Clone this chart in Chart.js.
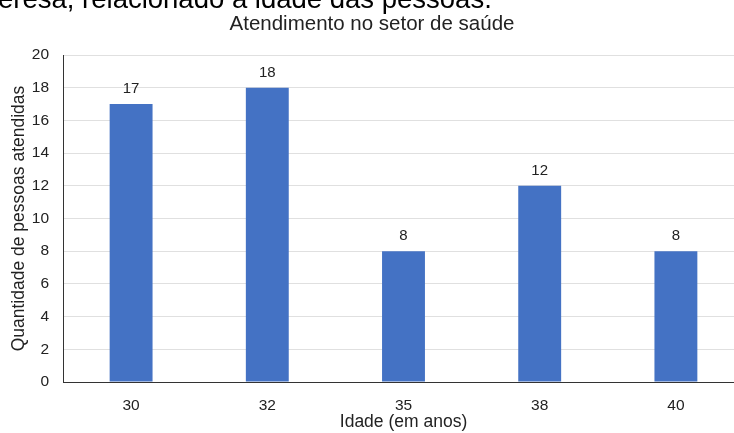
<!DOCTYPE html>
<html>
<head>
<meta charset="utf-8">
<script src="https://cdn.jsdelivr.net/npm/chart.js@4/dist/chart.umd.min.js"></script>
<style>
  body { margin: 0; overflow: hidden; background: #fff; }
  #wrap { position: absolute; left: 0; top: 0; width: 746px; height: 433px; }
  #cut {
    position: absolute; left: -2px; top: -15.5px;
    font-family: "Liberation Sans", Arial, sans-serif;
    font-size: 27.5px; line-height: 28px; color: #000; white-space: nowrap;
  }
</style>
</head>
<body>
<div id="wrap"><canvas id="myChart" width="746" height="433"></canvas></div>
<div id="cut">eresa, relacionado à idade das pessoas.</div>
<script>
// data
const ages = ['30', '32', '35', '38', '40'];
const attended = [17, 18, 8, 12, 8];
const yTicks = [0, 2, 4, 6, 8, 10, 12, 14, 16, 18, 20];

const ctx = document.getElementById('myChart').getContext('2d');
const FONT = '"Liberation Sans", Arial, sans-serif';

// draw the value above each bar
const barLabels = {
  id: 'barLabels',
  afterDatasetsDraw(chart) {
    const c = chart.ctx;
    const meta = chart.getDatasetMeta(0);
    c.save();
    c.font = '15px ' + FONT;
    c.fillStyle = '#222';
    c.textAlign = 'center';
    c.textBaseline = 'middle';
    meta.data.forEach(function(bar, i) {
      c.fillText(String(attended[i]), bar.x, bar.y - 15);
    });
    c.restore();
  }
};

const myChart = new Chart(ctx, {
  type: 'bar',
  data: {
    labels: ages,
    datasets: [{
      label: 'Quantidade de pessoas atendidas',
      data: attended,
      backgroundColor: '#4472c4',
      borderWidth: 0,
      categoryPercentage: 1,
      barPercentage: 0.315
    }]
  },
  options: {
    responsive: false,
    animation: false,
    layout: { padding: { left: 0, right: 2, top: 0, bottom: 0 } },
    plugins: {
      legend: { display: false },
      tooltip: { enabled: false },
      title: {
        display: true,
        text: 'Atendimento no setor de saúde',
        color: '#222',
        font: { family: FONT, size: 20.5, weight: 'normal' },
        padding: { top: 12, bottom: 18.4 }
      }
    },
    scales: {
      x: {
        grid: { display: false, drawTicks: false },
        border: { display: true, color: '#333', width: 1 },
        ticks: { color: '#222', font: { family: FONT, size: 15.5 }, padding: 14 },
        title: {
          display: true,
          text: 'Idade (em anos)',
          color: '#222',
          font: { family: FONT, size: 17.5 },
          padding: { top: 0, bottom: 0.5 }
        },
        afterFit(scale) { scale.height = 51; }
      },
      y: {
        min: 0,
        max: 20,
        afterBuildTicks(scale) { scale.ticks = yTicks.map(v => ({ value: v })); },
        grid: { color: '#e0e0e0', drawTicks: false },
        border: { display: true, color: '#333', width: 1 },
        ticks: { color: '#222', font: { family: FONT, size: 15.5 }, padding: 14 },
        title: {
          display: true,
          text: 'Quantidade de pessoas atendidas',
          color: '#222',
          font: { family: FONT, size: 17.5 },
          padding: { top: 8.5, bottom: 0 }
        },
        afterFit(scale) { scale.width = 63; }
      }
    }
  },
  plugins: [barLabels]
});
</script>
</body>
</html>
